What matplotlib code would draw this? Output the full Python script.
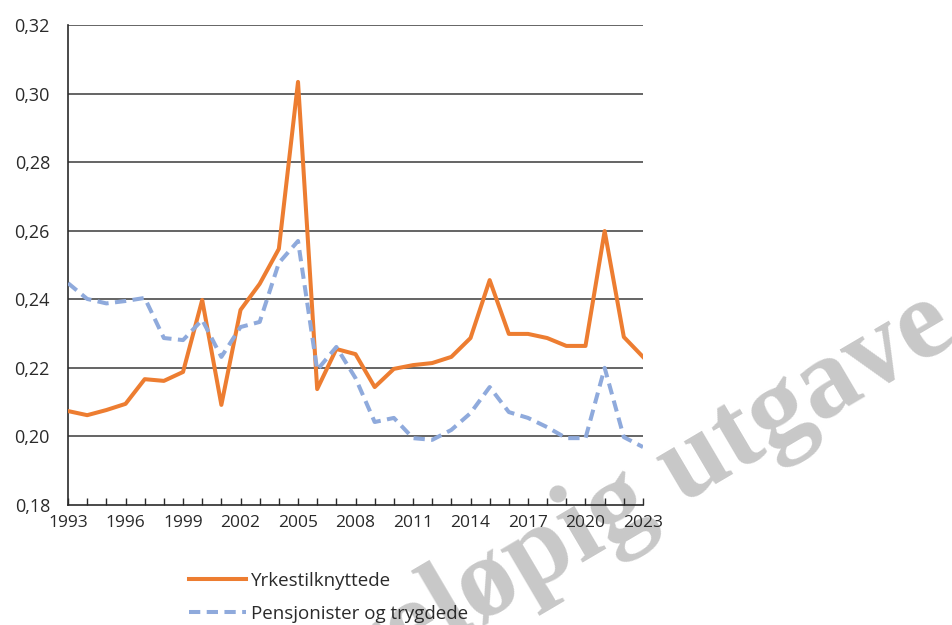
import matplotlib.pyplot as plt
import numpy as np

plt.rcParams['font.family'] = ['Open Sans', 'DejaVu Sans']

years = np.arange(1993, 2024)
yrkestilknyttede = [0.2074, 0.2062, 0.2077, 0.2095, 0.2167, 0.2162, 0.2188, 0.2398,
                    0.2092, 0.2369, 0.2445, 0.2547, 0.3034, 0.2138, 0.2255, 0.2240,
                    0.2144, 0.2197, 0.2208, 0.2214, 0.2232, 0.2287, 0.2456, 0.2299,
                    0.2299, 0.2287, 0.2264, 0.2264, 0.2599, 0.2290, 0.2232]
pensjonister = [0.2447, 0.2401, 0.2388, 0.2395, 0.2404, 0.2287, 0.2281, 0.2340,
                0.2232, 0.2319, 0.2334, 0.2506, 0.2570, 0.2194, 0.2261, 0.2170,
                0.2042, 0.2054, 0.1995, 0.1990, 0.2019, 0.2068, 0.2144, 0.2071,
                0.2054, 0.2027, 0.1995, 0.1995, 0.2200, 0.1998, 0.1969]
label_years = list(range(1993, 2024, 3))
y_ticks = [0.18, 0.20, 0.22, 0.24, 0.26, 0.28, 0.30, 0.32]

fig = plt.figure(figsize=(9.53, 6.25), dpi=100)
ax = fig.add_axes([0.0714, 0.192, 0.6033, 0.768])
ax.set_facecolor('none')

ax.plot(years, yrkestilknyttede, color='#ED7D31', lw=2.9,
        label='Yrkestilknyttede', zorder=3)
ax.plot(years, pensjonister, color='#8FAADC', lw=2.9, dashes=(2.8, 1.6),
        label='Pensjonister og trygdede', zorder=3)

ax.set_xlim(1993, 2023)
ax.set_ylim(0.18, 0.32)
ax.set_yticks(y_ticks)
ax.set_yticklabels([f'{v:.2f}'.replace('.', ',') for v in y_ticks])
ax.set_xticks(years, minor=True)
ax.set_xticks(label_years)
ax.set_xticklabels([str(y) for y in label_years])

for v in y_ticks[1:]:
    ax.axhline(v, color='#3a3a3a', lw=1.1, zorder=1)

for s in ['top', 'right']:
    ax.spines[s].set_visible(False)
for s in ['left', 'bottom']:
    ax.spines[s].set_color('#2a2a2a')
    ax.spines[s].set_linewidth(1.2)

ax.tick_params(axis='y', length=0, pad=13, labelsize=13, labelcolor='#2a2a2a')
ax.tick_params(axis='x', which='both', direction='in', length=5, width=1,
               color='#2a2a2a', pad=7, labelsize=12.5, labelcolor='#2a2a2a')

leg = fig.legend(loc='upper left', frameon=False,
                 fontsize=13.5, handlelength=3.05, handletextpad=0.25, labelspacing=0.8,
                 borderaxespad=0, borderpad=0, labelcolor='#2a2a2a')
leg.set_bbox_to_anchor((189 / 953, 1 - 572 / 625), transform=fig.transFigure)

# watermark
fig.text(960 / 953, 1 - 340 / 625, 'Foreløpig utgave', fontsize=82, fontweight='bold',
         family='Liberation Serif', color='#c8c8c8', rotation=30.5,
         rotation_mode='anchor', ha='right', va='baseline', zorder=-1)

fig.savefig('out.png', dpi=100)
